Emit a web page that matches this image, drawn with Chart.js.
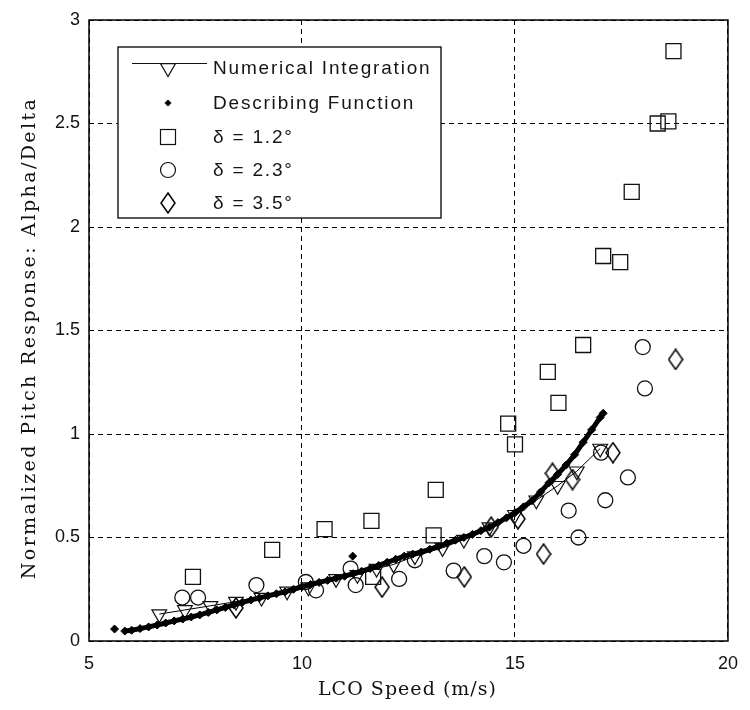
<!DOCTYPE html>
<html lang="en">
<head>
    <meta charset="UTF-8">
    <title>LCO pitch response</title>
    <style>
        body { margin: 0; background: #fff; }
        #wrap { width: 750px; height: 710px; }
    </style>
    <script src="https://cdn.jsdelivr.net/npm/chart.js"></script>
</head>
<body>
    <div id="wrap"><canvas id="lcoChart" width="750" height="710"></canvas></div>

    <script>
        // values
        const xTicks = [5, 10, 15, 20];
        const yTicks = [0, 0.5, 1, 1.5, 2, 2.5, 3];
        const seriesNames = ['Numerical Integration', 'Describing Function', 'δ = 1.2°', 'δ = 2.3°', 'δ = 3.5°'];

        // numerical integration (line + down triangles)
        const niSpeed = [6.65, 7.25, 7.85, 8.45, 9.05, 9.65, 10.15, 10.8, 11.3, 11.75, 12.15, 12.65, 13.3, 13.8, 14.4, 15.0, 15.5, 16.0, 16.45, 17.0];
        const niResp  = [0.13, 0.15, 0.17, 0.19, 0.21, 0.24, 0.26, 0.30, 0.32, 0.35, 0.37, 0.41, 0.45, 0.49, 0.55, 0.61, 0.68, 0.75, 0.82, 0.93];

        // describing function (dense black dots)
        const dfSpeed = [5.84, 6.0, 6.2, 6.4, 6.6, 6.8, 7.0, 7.2, 7.4, 7.6, 7.8, 8.0, 8.2, 8.4, 8.6, 8.8, 9.0, 9.2, 9.4, 9.6, 9.8, 10.0,
                         10.2, 10.4, 10.6, 10.8, 11.0, 11.2, 11.4, 11.6, 11.8, 12.0, 12.2, 12.4, 12.6, 12.8, 13.0, 13.2, 13.4, 13.6, 13.8, 14.0,
                         14.2, 14.4, 14.6, 14.8, 15.0, 15.2, 15.4, 15.6, 15.8, 16.0, 16.2, 16.4, 16.6, 16.8, 17.0, 17.07];
        const dfResp  = [0.048, 0.052, 0.060, 0.068, 0.077, 0.087, 0.097, 0.106, 0.116, 0.126, 0.138, 0.150, 0.162, 0.175, 0.187, 0.198, 0.208, 0.218, 0.228, 0.237, 0.250, 0.262,
                         0.273, 0.283, 0.293, 0.303, 0.313, 0.325, 0.337, 0.350, 0.365, 0.380, 0.395, 0.410, 0.420, 0.430, 0.443, 0.457, 0.472, 0.487, 0.500, 0.515,
                         0.533, 0.550, 0.572, 0.595, 0.620, 0.648, 0.678, 0.720, 0.765, 0.805, 0.850, 0.900, 0.960, 1.02, 1.08, 1.10];
        const dfOutSpeed = [5.60, 11.19];
        const dfOutResp  = [0.058, 0.41];

        // experiments
        const d12Speed = [7.44, 9.30, 10.53, 11.63, 11.67, 13.09, 13.14, 14.84, 15.0, 15.77, 16.02, 16.60, 17.07, 17.47, 17.74, 18.35, 18.60, 18.72];
        const d12Resp  = [0.31, 0.44, 0.54, 0.58, 0.31, 0.51, 0.73, 1.05, 0.95, 1.30, 1.15, 1.43, 1.86, 1.83, 2.17, 2.50, 2.51, 2.85];

        const d23Speed = [7.19, 7.56, 8.93, 10.09, 10.33, 11.14, 11.26, 12.28, 12.65, 13.56, 14.28, 14.74, 15.2, 16.26, 16.49, 17.02, 17.12, 17.65, 18.0, 18.05];
        const d23Resp  = [0.21, 0.21, 0.27, 0.285, 0.245, 0.35, 0.27, 0.30, 0.39, 0.34, 0.41, 0.38, 0.46, 0.63, 0.50, 0.91, 0.68, 0.79, 1.42, 1.22];

        const d35Speed = [8.45, 11.88, 13.81, 14.44, 15.07, 15.67, 15.88, 16.35, 17.3, 18.77];
        const d35Resp  = [0.16, 0.26, 0.31, 0.55, 0.59, 0.42, 0.81, 0.78, 0.91, 1.36];

        const pts = (xs, ys) => xs.map((x, i) => ({ x: x, y: ys[i] }));

        // tall matlab-like diamond marker
        function makeDiamond(w, h) {
            const c = document.createElement('canvas');
            c.width = w + 2;
            c.height = h + 2;
            const g = c.getContext('2d');
            g.strokeStyle = '#000';
            g.lineWidth = 1.5;
            g.beginPath();
            g.moveTo(c.width / 2, 1);
            g.lineTo(c.width - 1, c.height / 2);
            g.lineTo(c.width / 2, c.height - 1);
            g.lineTo(1, c.height / 2);
            g.closePath();
            g.stroke();
            return c;
        }
        const diamondImg = makeDiamond(14, 20);

        function spacedText(ctx, text, x, y, width) {
            ctx.letterSpacing = '0px';
            const w = ctx.measureText(text).width;
            const gap = Math.max(0, (width - w) / (text.length - 1));
            ctx.letterSpacing = gap + 'px';
            ctx.fillText(text, x, y);
            ctx.letterSpacing = '0px';
        }

        // box, axis titles and legend drawn on top
        const frameAndLegend = {
            id: 'frameAndLegend',
            afterDraw(chart) {
                const ctx = chart.ctx;
                const a = chart.chartArea;
                ctx.save();
                ctx.setLineDash([]);
                ctx.strokeStyle = '#000';
                ctx.lineWidth = 1.5;
                ctx.strokeRect(a.left, a.top, a.right - a.left, a.bottom - a.top);

                // axis titles
                ctx.fillStyle = '#111';
                ctx.font = '19px "DejaVu Serif"';
                ctx.textAlign = 'center';
                ctx.textBaseline = 'middle';
                spacedText(ctx, 'LCO Speed (m/s)', (a.left + a.right) / 2 - 1, 690, 178);
                ctx.save();
                ctx.translate(30, 338);
                ctx.rotate(-Math.PI / 2);
                spacedText(ctx, 'Normalized Pitch Response: Alpha/Delta', 0, 0, 480);
                ctx.restore();

                // legend
                const bx = a.left + 29, by = a.top + 27, bw = 323, bh = 171;
                ctx.fillStyle = '#fff';
                ctx.fillRect(bx, by, bw, bh);
                ctx.lineWidth = 1.3;
                ctx.strokeRect(bx, by, bw, bh);

                const symX = bx + 50, txtX = bx + 95;
                const rows = [by + 21, by + 56, by + 90, by + 123, by + 156];
                ctx.strokeStyle = '#111';
                ctx.lineWidth = 1.2;

                // numerical integration
                ctx.beginPath();
                ctx.moveTo(bx + 14, rows[0] - 4.5);
                ctx.lineTo(bx + 89, rows[0] - 4.5);
                ctx.stroke();
                const r = 8.5;
                ctx.beginPath();
                ctx.moveTo(symX, rows[0] + r);
                ctx.lineTo(symX - 0.866 * r, rows[0] - 0.5 * r);
                ctx.lineTo(symX + 0.866 * r, rows[0] - 0.5 * r);
                ctx.closePath();
                ctx.stroke();

                // describing function
                ctx.fillStyle = '#000';
                ctx.beginPath();
                ctx.moveTo(symX, rows[1] - 3.5);
                ctx.lineTo(symX + 3.5, rows[1]);
                ctx.lineTo(symX, rows[1] + 3.5);
                ctx.lineTo(symX - 3.5, rows[1]);
                ctx.closePath();
                ctx.fill();

                // square, circle, diamond
                ctx.strokeRect(symX - 7.5, rows[2] - 7.5, 15, 15);
                ctx.beginPath();
                ctx.arc(symX, rows[3], 7.5, 0, Math.PI * 2);
                ctx.stroke();
                ctx.drawImage(diamondImg, symX - diamondImg.width / 2, rows[4] - diamondImg.height / 2);

                ctx.fillStyle = '#151515';
                ctx.font = '19px "Liberation Sans", Arial, sans-serif';
                ctx.textAlign = 'left';
                ctx.letterSpacing = '1.8px';
                seriesNames.forEach((name, i) => ctx.fillText(name, txtX, rows[i] + 1));
                ctx.letterSpacing = '0px';
                ctx.restore();
            }
        };

        const hollow = 'rgba(0,0,0,0)';
        const tickFont = { family: '"Liberation Sans", Arial, sans-serif', size: 18 };

        new Chart(document.getElementById('lcoChart'), {
            type: 'scatter',
            data: {
                datasets: [
                    {
                        label: seriesNames[1],
                        data: pts(dfSpeed, dfResp),
                        showLine: true,
                        borderColor: '#000',
                        borderWidth: 5,
                        pointStyle: 'rectRot',
                        pointRadius: 4,
                        pointBackgroundColor: '#000',
                        pointBorderColor: '#000',
                        pointBorderWidth: 1,
                        order: 0
                    },
                    {
                        label: seriesNames[1] + ' (extra)',
                        data: pts(dfOutSpeed, dfOutResp),
                        pointStyle: 'rectRot',
                        pointRadius: 4,
                        pointBackgroundColor: '#000',
                        pointBorderColor: '#000',
                        pointBorderWidth: 1,
                        order: 0
                    },
                    {
                        label: seriesNames[0],
                        data: pts(niSpeed, niResp),
                        showLine: true,
                        borderColor: '#000',
                        borderWidth: 1,
                        pointStyle: 'triangle',
                        rotation: 180,
                        pointRadius: 8.5,
                        pointBackgroundColor: hollow,
                        pointBorderColor: '#111',
                        pointBorderWidth: 1.2,
                        order: 1
                    },
                    {
                        label: seriesNames[2],
                        data: pts(d12Speed, d12Resp),
                        pointStyle: 'rect',
                        pointRadius: 10.6,
                        pointBackgroundColor: hollow,
                        pointBorderColor: '#111',
                        pointBorderWidth: 1.3,
                        order: 2
                    },
                    {
                        label: seriesNames[3],
                        data: pts(d23Speed, d23Resp),
                        pointStyle: 'circle',
                        pointRadius: 7.5,
                        pointBackgroundColor: hollow,
                        pointBorderColor: '#111',
                        pointBorderWidth: 1.3,
                        order: 3
                    },
                    {
                        label: seriesNames[4],
                        data: pts(d35Speed, d35Resp),
                        pointStyle: diamondImg,
                        pointRadius: 8,
                        order: 4
                    }
                ]
            },
            options: {
                responsive: false,
                animation: false,
                layout: { padding: { left: 10, right: 16, top: 20, bottom: 8 } },
                plugins: {
                    legend: { display: false },
                    tooltip: { enabled: false }
                },
                scales: {
                    x: {
                        type: 'linear',
                        min: 5,
                        max: 20,
                        afterBuildTicks: s => { s.ticks = xTicks.map(v => ({ value: v })); },
                        afterFit: s => { s.height = 61; },
                        ticks: { padding: 12, color: '#111', font: tickFont },
                        grid: { color: '#000', lineWidth: 1, drawTicks: false },
                        border: { display: false, dash: [5, 4] }
                    },
                    y: {
                        type: 'linear',
                        min: 0,
                        max: 3,
                        afterBuildTicks: s => { s.ticks = yTicks.map(v => ({ value: v })); },
                        afterFit: s => { s.width = 79; },
                        ticks: { padding: 9, color: '#111', font: tickFont, callback: v => String(v) },
                        grid: { color: '#000', lineWidth: 1, drawTicks: false },
                        border: { display: false, dash: [5, 4] }
                    }
                }
            },
            plugins: [frameAndLegend]
        });
    </script>
</body>
</html>
